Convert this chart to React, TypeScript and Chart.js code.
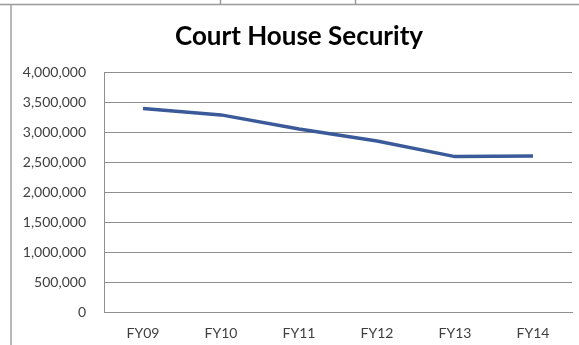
import React, { useEffect, useRef } from "react";
import { Chart, registerables } from "chart.js";

Chart.register(...registerables);

const categories: string[] = ["FY09", "FY10", "FY11", "FY12", "FY13", "FY14"];
const securityCost: number[] = [3390000, 3285000, 3050000, 2850000, 2590000, 2600000];
const yTickMax = 4000000;
const yTickStep = 500000;
const titleText = "Court House Security";

const FONT = "Lato, 'Open Sans', sans-serif";

// Cell borders of the surrounding sheet and the chart title.
const frameAndTitle = {
  id: "frameAndTitle",
  beforeDraw(chart: Chart) {
    const ctx = chart.ctx;
    ctx.save();
    ctx.fillStyle = "#ffffff";
    ctx.fillRect(0, 0, chart.width, chart.height);
    ctx.strokeStyle = "#9a9a9a";
    ctx.lineWidth = 1.5;
    ctx.beginPath();
    ctx.moveTo(0, 4.5);
    ctx.lineTo(chart.width, 4.5);
    ctx.moveTo(220.5, 0);
    ctx.lineTo(220.5, 4.5);
    ctx.moveTo(355.5, 0);
    ctx.lineTo(355.5, 4.5);
    ctx.stroke();
    ctx.lineWidth = 1.5;
    ctx.strokeStyle = "#a0a0a0";
    ctx.beginPath();
    ctx.moveTo(11, 5);
    ctx.lineTo(11, chart.height);
    ctx.stroke();
    ctx.restore();
  },
  afterDraw(chart: Chart) {
    const ctx = chart.ctx;
    ctx.save();
    ctx.fillStyle = "#000000";
    ctx.font = `bold 26px ${FONT}`;
    ctx.textAlign = "center";
    ctx.textBaseline = "middle";
    ctx.fillText(titleText, 299, 37);
    ctx.restore();
  },
};

export default function App() {
  const canvasRef = useRef<HTMLCanvasElement | null>(null);

  useEffect(() => {
    if (!canvasRef.current) return;
    const chart = new Chart(canvasRef.current, {
      type: "line",
      data: {
        labels: categories,
        datasets: [
          {
            label: titleText,
            data: securityCost,
            borderColor: "#3b5a99",
            borderWidth: 3.5,
            pointRadius: 0,
            pointHoverRadius: 0,
            tension: 0,
            fill: false,
          },
        ],
      },
      options: {
        responsive: false,
        animation: false,
        devicePixelRatio: 1,
        layout: { padding: { left: 12, right: 7, top: 72, bottom: 0 } },
        plugins: {
          legend: { display: false },
          title: { display: false },
          tooltip: { enabled: false },
        },
        scales: {
          x: {
            offset: true,
            grid: { display: false, drawTicks: false },
            border: { display: true, color: "#8e8e8e", width: 1 },
            ticks: {
              color: "#3f3f3f",
              font: { family: FONT, size: 14 },
              padding: 13,
            },
            afterFit: (s: any) => {
              s.height = 33;
            },
          },
          y: {
            min: 0,
            max: yTickMax,
            grid: { color: "#8e8e8e", lineWidth: 1, drawTicks: false },
            border: { display: true, color: "#8e8e8e", width: 1 },
            ticks: {
              stepSize: yTickStep,
              color: "#3f3f3f",
              font: { family: FONT, size: 14 },
              padding: 18,
              callback: (v: any) => Number(v).toLocaleString("en-US"),
            },
            afterFit: (s: any) => {
              s.width = 92;
            },
          },
        },
      },
      plugins: [frameAndTitle],
    });
    return () => chart.destroy();
  }, []);

  return (
    <div style={{ position: "absolute", left: 0, top: 0, width: 579, height: 345, background: "#fff" }}>
      <canvas ref={canvasRef} width={579} height={345} style={{ display: "block" }} />
    </div>
  );
}
